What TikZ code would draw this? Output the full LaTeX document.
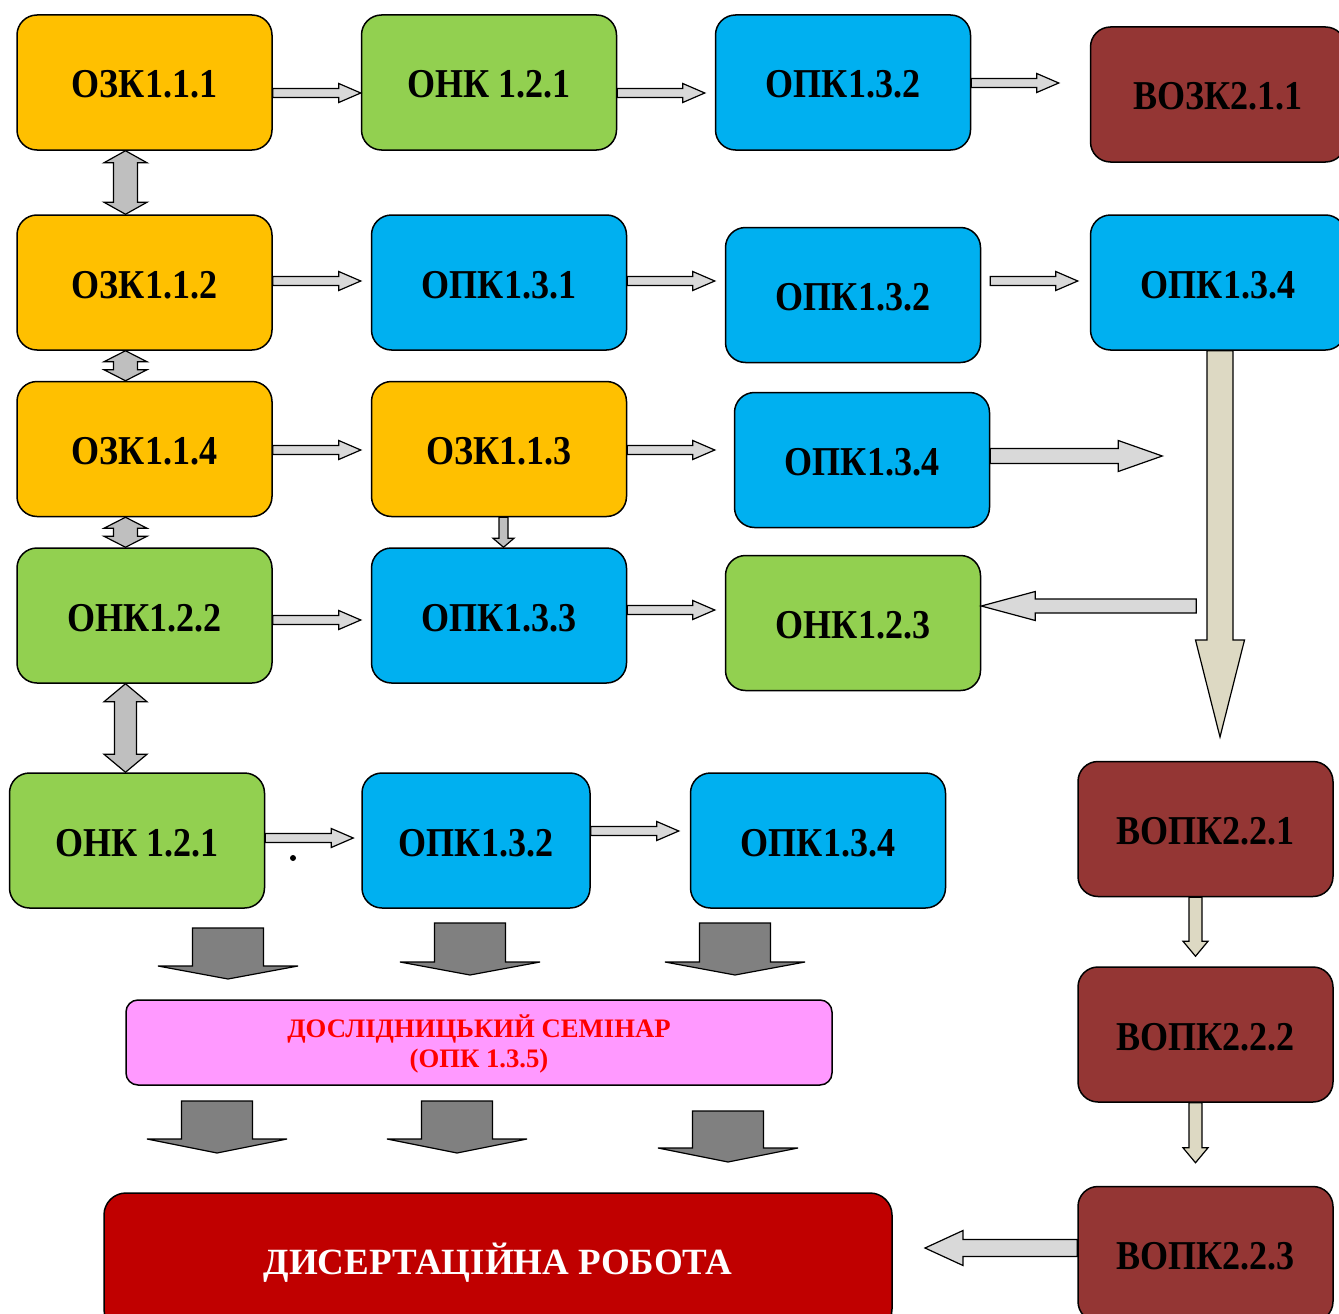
\documentclass[tikz,border=0pt]{standalone}
\usepackage{fontspec}
\setmainfont{Liberation Serif}
\newfontfamily\bfont{Liberation Serif}[FakeStretch=0.88]
\usetikzlibrary{calc}
\definecolor{corange}{HTML}{FFC000}
\definecolor{cgreen}{HTML}{92D050}
\definecolor{cblue}{HTML}{00B0F0}
\definecolor{cbrown}{HTML}{943634}
\definecolor{cpink}{HTML}{FF99FF}
\definecolor{cdred}{HTML}{C00000}
\definecolor{clight}{HTML}{D9D9D9}
\definecolor{cmid}{HTML}{BFBFBF}
\definecolor{cdark}{HTML}{808080}
\definecolor{cbeige}{HTML}{DDD9C3}
% right arrow: style, tail, tip, shaft half width, head half width, head length
\newcommand\rarr[6]{\path[#1] let \p1=(#2), \p2=(#3) in (\x1,\y1+#4) -- (\x2-#6,\y1+#4) -- (\x2-#6,\y1+#5) -- (\x2,\y1) -- (\x2-#6,\y1-#5) -- (\x2-#6,\y1-#4) -- (\x1,\y1-#4) -- cycle;}
\newcommand\larr[6]{\path[#1] let \p1=(#2), \p2=(#3) in (\x1,\y1+#4) -- (\x2+#6,\y1+#4) -- (\x2+#6,\y1+#5) -- (\x2,\y1) -- (\x2+#6,\y1-#5) -- (\x2+#6,\y1-#4) -- (\x1,\y1-#4) -- cycle;}
\newcommand\darr[6]{\path[#1] let \p1=(#2), \p2=(#3) in (\x1-#4,\y1) -- (\x1-#4,\y2+#6) -- (\x1-#5,\y2+#6) -- (\x1,\y2) -- (\x1+#5,\y2+#6) -- (\x1+#4,\y2+#6) -- (\x1+#4,\y1) -- cycle;}
\newcommand\udarr[6]{\path[#1] let \p1=(#2), \p2=(#3) in (\x1,\y1) -- (\x1+#5,\y1-#6) -- (\x1+#4,\y1-#6) -- (\x1+#4,\y2+#6) -- (\x1+#5,\y2+#6) -- (\x1,\y2) -- (\x1-#5,\y2+#6) -- (\x1-#4,\y2+#6) -- (\x1-#4,\y1-#6) -- (\x1-#5,\y1-#6) -- cycle;}
\tikzset{
  box/.style={draw, line width=1.5pt, rounded corners=20pt, minimum width=255pt,
    minimum height=135pt, inner sep=0pt, text height=31pt, text depth=0pt,
    font=\bfont\bfseries\fontsize{41}{41}\selectfont},
  thin/.style={draw, line width=1.2pt, fill=clight},
  mid/.style={draw, line width=1.2pt, fill=cmid},
  beige/.style={draw, line width=1.2pt, fill=cbeige},
  dark/.style={draw, line width=1.2pt, fill=cdark},
}
\begin{document}
\begin{tikzpicture}[x=1pt, y=-1pt]
\useasboundingbox (0,0) rectangle (1339,1314);
% row 1
\node[box, fill=corange] (a1) at (144.5,82.5) {ОЗК1.1.1};
\node[box, fill=cgreen] (a2) at (489,82.5) {ОНК 1.2.1};
\node[box, fill=cblue] (a3) at (843,82.5) {ОПК1.3.2};
\node[box, fill=cbrown] (a4) at (1218,94.5) {ВОЗК2.1.1};
% row 2
\node[box, fill=corange] (b1) at (144.5,282.5) {ОЗК1.1.2};
\node[box, fill=cblue] (b2) at (499,282.5) {ОПК1.3.1};
\node[box, fill=cblue] (b3) at (853,295) {ОПК1.3.2};
\node[box, fill=cblue] (b4) at (1218,282.5) {ОПК1.3.4};
% row 3
\node[box, fill=corange] (c1) at (144.5,449) {ОЗК1.1.4};
\node[box, fill=corange] (c2) at (499,449) {ОЗК1.1.3};
\node[box, fill=cblue] (c3) at (862,460) {ОПК1.3.4};
% row 4
\node[box, fill=cgreen] (d1) at (144.5,615.5) {ОНК1.2.2};
\node[box, fill=cblue] (d2) at (499,615.5) {ОПК1.3.3};
\node[box, fill=cgreen] (d3) at (853,623) {ОНК1.2.3};
% row 5
\node[box, fill=cgreen] (e1) at (137,840.5) {ОНК 1.2.1};
\node[box, fill=cblue, minimum width=228pt] (e2) at (476,840.5) {ОПК1.3.2};
\node[box, fill=cblue] (e3) at (818,840.5) {ОПК1.3.4};
% right column
\node[box, fill=cbrown] (f1) at (1205.5,829) {ВОПК2.2.1};
\node[box, fill=cbrown] (f2) at (1205.5,1034.5) {ВОПК2.2.2};
\node[box, fill=cbrown] (f3) at (1205.5,1254) {ВОПК2.2.3};
% seminar and dissertation
\node[draw, line width=1.5pt, rounded corners=12pt, fill=cpink, minimum width=706pt,
  minimum height=85pt, inner sep=0pt, text=red,
  font=\bfseries\fontsize{26.7}{30}\selectfont] (sem) at (479,1042.5)
  {\raisebox{-3pt}[\height][\depth]{\begin{tabular}{@{}c@{}}ДОСЛІДНИЦЬКИЙ СЕМІНАР\\(ОПК 1.3.5)\end{tabular}}};
\node[draw, line width=1.5pt, rounded corners=22pt, fill=cdred, minimum width=788pt,
  minimum height=138pt, inner sep=0pt, text=white, text height=24pt, text depth=0pt,
  font=\bfseries\fontsize{37}{37}\selectfont] (dis) at (498,1262) {ДИСЕРТАЦІЙНА РОБОТА};
% free ends
\coordinate (tipL) at (925,1248);
\coordinate (bigtip) at (1220,737);
\coordinate (g1s) at (228,928); \coordinate (g1e) at (228,979);
\coordinate (g2s) at (470,923); \coordinate (g2e) at (470,975);
\coordinate (g3s) at (735,923); \coordinate (g3e) at (735,975);
\coordinate (h1s) at (217,1101); \coordinate (h1e) at (217,1153);
\coordinate (h2s) at (457,1101); \coordinate (h2e) at (457,1153);
\coordinate (h3s) at (728,1111); \coordinate (h3e) at (728,1162);
% horizontal arrows
\rarr{thin}{[yshift=-10.5pt]a1.east}{a2.west}{4.5pt}{9.5pt}{22pt}
\rarr{thin}{[yshift=-10.5pt]a2.east}{[xshift=-10pt]a3.west}{4.5pt}{9.5pt}{22pt}
\rarr{thin}{[yshift=-0.5pt]a3.east}{[xshift=-31pt]a4.west}{4.5pt}{9.5pt}{22pt}
\rarr{thin}{[yshift=1.5pt]b1.east}{[xshift=-10pt]b2.west}{4.5pt}{9.5pt}{22pt}
\rarr{thin}{[yshift=1.5pt]b2.east}{[xshift=-10pt]b3.west}{4.5pt}{9.5pt}{22pt}
\rarr{thin}{[xshift=9pt,yshift=14pt]b3.east}{[xshift=-12pt]b4.west}{4.5pt}{9.5pt}{22pt}
\rarr{thin}{[yshift=-1pt]c1.east}{[xshift=-10pt]c2.west}{4.5pt}{9.5pt}{22pt}
\rarr{thin}{[yshift=-1pt]c2.east}{[xshift=-19pt]c3.west}{4.5pt}{9.5pt}{22pt}
\rarr{thin}{[yshift=4pt]c3.east}{[xshift=172pt]c3.east}{7.5pt}{15.5pt}{44pt}
\rarr{thin}{[yshift=-4.5pt]d1.east}{[xshift=-10pt]d2.west}{4.5pt}{9.5pt}{22pt}
\rarr{thin}{[yshift=5.5pt]d2.east}{[xshift=-10pt]d3.west}{4.5pt}{9.5pt}{22pt}
\larr{thin}{[xshift=215pt,yshift=17pt]d3.east}{d3.east}{7pt}{14.5pt}{54pt}
\rarr{thin}{[yshift=2.5pt]e1.east}{[xshift=-8pt]e2.west}{4.5pt}{9.5pt}{22pt}
\rarr{thin}{[yshift=9.5pt]e2.east}{[xshift=-11pt]e3.west}{4.5pt}{9.5pt}{22pt}
\larr{thin}{[yshift=6pt]f3.west}{tipL}{8.5pt}{17.5pt}{38pt}
% vertical arrows
\udarr{mid}{[xshift=-19pt]a1.south}{[xshift=-19pt]b1.north}{12pt}{21.5pt}{12pt}
\udarr{mid}{[xshift=-19pt]b1.south}{[xshift=-19pt]c1.north}{12pt}{21.5pt}{11pt}
\udarr{mid}{[xshift=-19pt]c1.south}{[xshift=-19pt]d1.north}{12pt}{21.5pt}{11pt}
\udarr{mid}{[xshift=-19pt]d1.south}{[xshift=-11.5pt]e1.north}{11pt}{21.5pt}{18pt}
\darr{mid}{[xshift=4.5pt]c2.south}{d2.north}{4.5pt}{10.5pt}{9pt}
\darr{beige}{[xshift=2pt]b4.south}{bigtip}{13pt}{24.5pt}{97pt}
\darr{beige}{[xshift=-10pt]f1.south}{[yshift=10pt]f2.north}{6.5pt}{12.5pt}{15pt}
\darr{beige}{[xshift=-10pt]f2.south}{[yshift=23pt]f3.north}{6.5pt}{12.5pt}{15pt}
% block arrows
\darr{dark}{g1s}{g1e}{35.5pt}{70pt}{13pt}
\darr{dark}{g2s}{g2e}{35.5pt}{70pt}{13pt}
\darr{dark}{g3s}{g3e}{35.5pt}{70pt}{13pt}
\darr{dark}{h1s}{h1e}{35.5pt}{70pt}{14pt}
\darr{dark}{h2s}{h2e}{35.5pt}{70pt}{14pt}
\darr{dark}{h3s}{h3e}{35.5pt}{70pt}{14pt}
% dot
\node[circle, fill, inner sep=0pt, minimum size=6pt] (dot) at (293,858) {};
\end{tikzpicture}
\end{document}
